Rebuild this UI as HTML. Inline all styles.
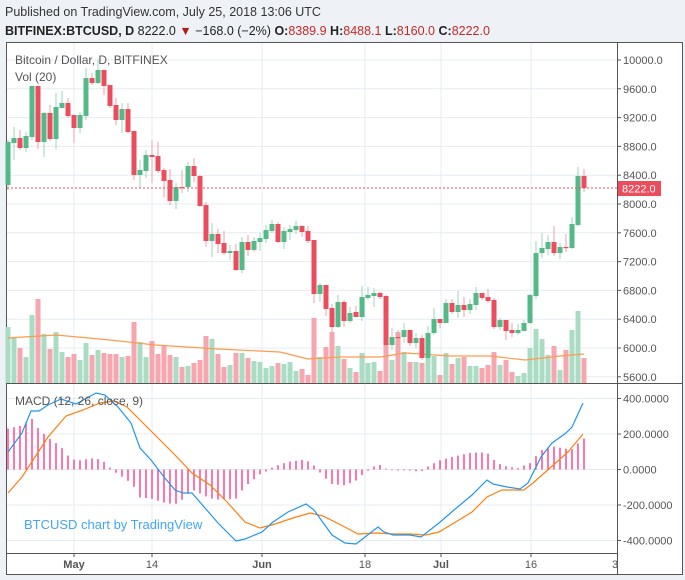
<!DOCTYPE html>
<html><head><meta charset="utf-8">
<style>
body{margin:0;background:#eef2f6;width:685px;height:580px;overflow:hidden;font-family:"Liberation Sans",sans-serif;}
svg{position:absolute;left:0;top:0}
</style></head><body>
<svg id="s" width="685" height="580" xmlns="http://www.w3.org/2000/svg"></svg>
<script>
const s=document.getElementById('s');let h='';
h+='<text x="5" y="16" font-size="12.5" fill="#333">Published on TradingView.com, July 25, 2018 13:06 UTC</text>';
h+='<text x="5" y="35" font-size="12.5" fill="#222"><tspan font-weight="bold">BITFINEX:BTCUSD, D</tspan> 8222.0 <tspan fill="#b71c1c">▼</tspan> −168.0 (−2%) <tspan font-weight="bold">O:</tspan><tspan fill="#c62828">8389.9</tspan> <tspan font-weight="bold">H:</tspan><tspan fill="#c62828">8488.1</tspan> <tspan font-weight="bold">L:</tspan><tspan fill="#c62828">8160.0</tspan> <tspan font-weight="bold">C:</tspan><tspan fill="#c62828">8222.0</tspan></text>';
h+='<rect x="6.5" y="42.5" width="676" height="532" fill="#fff" stroke="#555"/>';
// grid
[74,152,262,365,441,531].forEach(x=>{h+=`<line x1="${x}" y1="43" x2="${x}" y2="553" stroke="#e4ecf2"/>`;});
const py=p=>60+(10000-p)/400*28.8;
for(let p=5600;p<=10000;p+=400){const y=py(p);h+=`<line x1="7" y1="${y}" x2="617" y2="${y}" stroke="#e4ecf2"/><line x1="617" y1="${y}" x2="621" y2="${y}" stroke="#555"/><text x="623" y="${y+4}" font-size="11" fill="#555">${p.toFixed(1)}</text>`;}
const my=v=>469.5-v/400*71;
[400,200,0,-200,-400].forEach(v=>{const y=my(v);h+=`<line x1="7" y1="${y}" x2="617" y2="${y}" stroke="#e4ecf2"/><line x1="617" y1="${y}" x2="621" y2="${y}" stroke="#555"/><text x="623" y="${y+4}" font-size="11" fill="#555">${v>0?v.toFixed(4):v.toFixed(4)}</text>`;});
// volumes
const vol=[327,338,348,357,315,299,334,349,332,352,357,354,360,343,355,350,353,354,354,357,356,322,342,357,341,354,346,355,357,367,366,363,360,336,339,354,367,365,353,353,358,361,362,368,366,363,364,362,371,369,375,318,357,347,332,346,359,368,372,353,363,362,371,345,360,332,352,362,362,363,350,356,375,353,364,358,357,366,366,368,365,352,365,360,372,376,373,348,329,339,355,346,370,350,330,311,358];
const C=[[185,142,140,190],[143,138,127,160],[138,148,130,150],[148,136,132,152],[137,86,86,140],[86,142,86,149],[142,113,112,157],[113,139,105,141],[139,107,93,149],[108,103,91,108],[103,116,98,118],[115,128,115,143],[128,115,112,133],[116,78,68,120],[78,83,73,85],[83,70,60,84],[70,86,70,95],[85,106,85,108],[105,120,98,125],[120,109,103,133],[109,132,103,133],[131,175,131,180],[175,170,160,188],[171,155,150,178],[155,157,140,183],[156,171,142,173],[170,181,168,197],[180,201,169,205],[201,187,183,209],[187,188,170,193],[187,166,162,192],[166,176,158,182],[176,206,175,207],[205,241,202,247],[241,234,223,257],[234,244,229,253],[243,253,231,255],[253,251,245,260],[251,270,244,271],[270,242,237,273],[242,250,235,256],[250,241,237,252],[242,238,233,251],[239,230,225,243],[231,224,220,233],[224,242,222,243],[242,231,227,249],[232,229,225,240],[230,226,221,234],[226,232,225,237],[231,241,226,243],[240,294,240,303],[294,285,283,302],[285,309,285,316],[308,327,304,332],[327,302,295,328],[302,321,300,327],[321,313,307,323],[312,317,306,317],[317,297,286,321],[298,295,287,300],[296,293,288,307],[293,297,292,299],[296,345,295,345],[345,337,328,350],[337,338,330,347],[337,330,323,343],[330,343,330,346],[343,338,333,348],[338,358,335,360],[358,333,326,360],[333,319,308,335],[319,323,319,328],[323,303,299,323],[303,312,299,314],[312,305,291,318],[305,310,297,317],[310,304,299,314],[305,293,287,310],[293,298,293,300],[297,301,289,303],[300,327,298,329],[327,320,318,330],[320,331,320,340],[330,333,323,337],[333,330,324,335],[331,323,320,331],[323,295,294,324],[296,253,241,299],[253,248,233,258],[249,242,235,255],[242,253,226,256],[253,247,243,259],[247,248,234,252],[248,224,217,249],[225,176,167,226],[176,188,169,192]];
C.forEach((c,i)=>{const x=8+i*6;const up=c[1]<c[0];const v=vol[i];
h+=`<rect x="${x-2.5}" y="${v}" width="5" height="${383-v}" fill="${up?'#a9dcc3':'#f5a6ae'}"/>`;});
// vol MA
h+='<polyline fill="none" stroke="#ff9a4d" stroke-width="1.2" points="8,338 56,335 110,340 155,345 218,349 280,352 308,359 340,357 380,357 405,353 450,356 490,356 525,360 560,356 584,354"/>';
C.forEach((c,i)=>{const x=8+i*6;const up=c[1]<c[0]||(i==93?false:false);const g=up;const col=g?'#53b987':'#eb4d5c';
h+=`<line x1="${x}" y1="${c[2]}" x2="${x}" y2="${c[3]}" stroke="${g?'#9fd5bb':'#f0a0a8'}" stroke-width="1"/>`;
const t=Math.min(c[0],c[1]),b=Math.max(c[0],c[1]);h+=`<rect x="${x-2.5}" y="${t}" width="5" height="${Math.max(b-t,1.2)}" fill="${col}"/>`;});
// current price line
h+='<line x1="7" y1="188" x2="617" y2="188" stroke="#eb4d5c" stroke-dasharray="2,2"/>';
h+='<rect x="618" y="181" width="43" height="15" fill="#eb4d5c"/><text x="622" y="192.5" font-size="11" fill="#fff">8222.0</text>';
// separators
h+='<line x1="6" y1="383.5" x2="682" y2="383.5" stroke="#555"/><line x1="617.5" y1="43" x2="617.5" y2="574" stroke="#555"/><line x1="7" y1="553.5" x2="617" y2="553.5" stroke="#555"/>';
// MACD
const B=[[8,452],[22,433],[31,411],[39,411],[48,405],[61,399],[76,404],[96,393],[105,395],[118,407],[131,423],[140,448],[151,460],[164,477],[175,490],[183,493],[192,493],[205,508],[218,523],[236,541],[245,539],[262,532],[273,522],[288,512],[306,504],[314,510],[332,535],[345,543],[356,544],[365,537],[378,527],[384,532],[393,535],[410,535],[421,537],[439,523],[454,510],[472,495],[487,480],[493,484],[507,487],[520,489],[528,483],[541,457],[552,443],[566,433],[572,427],[583,403]];
const O=[[8,493],[22,477],[35,457],[48,437],[66,416],[83,410],[100,403],[114,401],[127,407],[140,420],[157,437],[175,455],[192,473],[210,485],[227,502],[245,522],[260,528],[275,524],[293,518],[310,513],[323,516],[341,525],[358,534],[376,533],[393,534],[410,534],[426,535],[439,532],[454,523],[472,512],[487,497],[502,490],[524,490],[533,483],[550,468],[568,452],[583,434]];
const itp=(P,x)=>{for(let i=0;i<P.length-1;i++){if(x>=P[i][0]&&x<=P[i+1][0]){const t=(x-P[i][0])/(P[i+1][0]-P[i][0]);return P[i][1]+t*(P[i+1][1]-P[i][1]);}}return P[P.length-1][1];};
for(let i=0;i<97;i++){const x=8+i*6;const d=itp(B,x)-itp(O,x);const y=469.5+d;h+=`<line x1="${x}" y1="469.5" x2="${x}" y2="${y}" stroke="#ff1a75" stroke-width="1.2"/>`;}
h+=`<polyline fill="none" stroke="#ff7f0e" stroke-width="1.2" points="${O.map(p=>p.join(',')).join(' ')}"/>`;
h+=`<polyline fill="none" stroke="#2196f3" stroke-width="1.2" points="${B.map(p=>p.join(',')).join(' ')}"/>`;
// labels
h+='<text x="15" y="64" font-size="12" fill="#555">Bitcoin / Dollar, D, BITFINEX</text><text x="15" y="81" font-size="12" fill="#555">Vol (20)</text>';
h+='<text x="15" y="405" font-size="12" fill="#555">MACD (12, 26, close, 9)</text>';
h+='<text x="24" y="529" font-size="13" fill="#42a5f5">BTCUSD chart by TradingView</text>';
[[74,'May',1],[152,'14',0],[262,'Jun',1],[365,'18',0],[441,'Jul',1],[531,'16',0]].forEach(d=>{h+=`<line x1="${d[0]}" y1="553" x2="${d[0]}" y2="557" stroke="#555"/><text x="${d[0]}" y="568" font-size="11" text-anchor="middle" fill="#555" ${d[2]?'font-weight="bold"':''}>${d[1]}</text>`;});
h+='<svg x="0" y="0" width="617" height="580"><text x="612" y="568" font-size="11" fill="#555">30</text></svg>';
s.innerHTML=h;
</script>
</body></html>
